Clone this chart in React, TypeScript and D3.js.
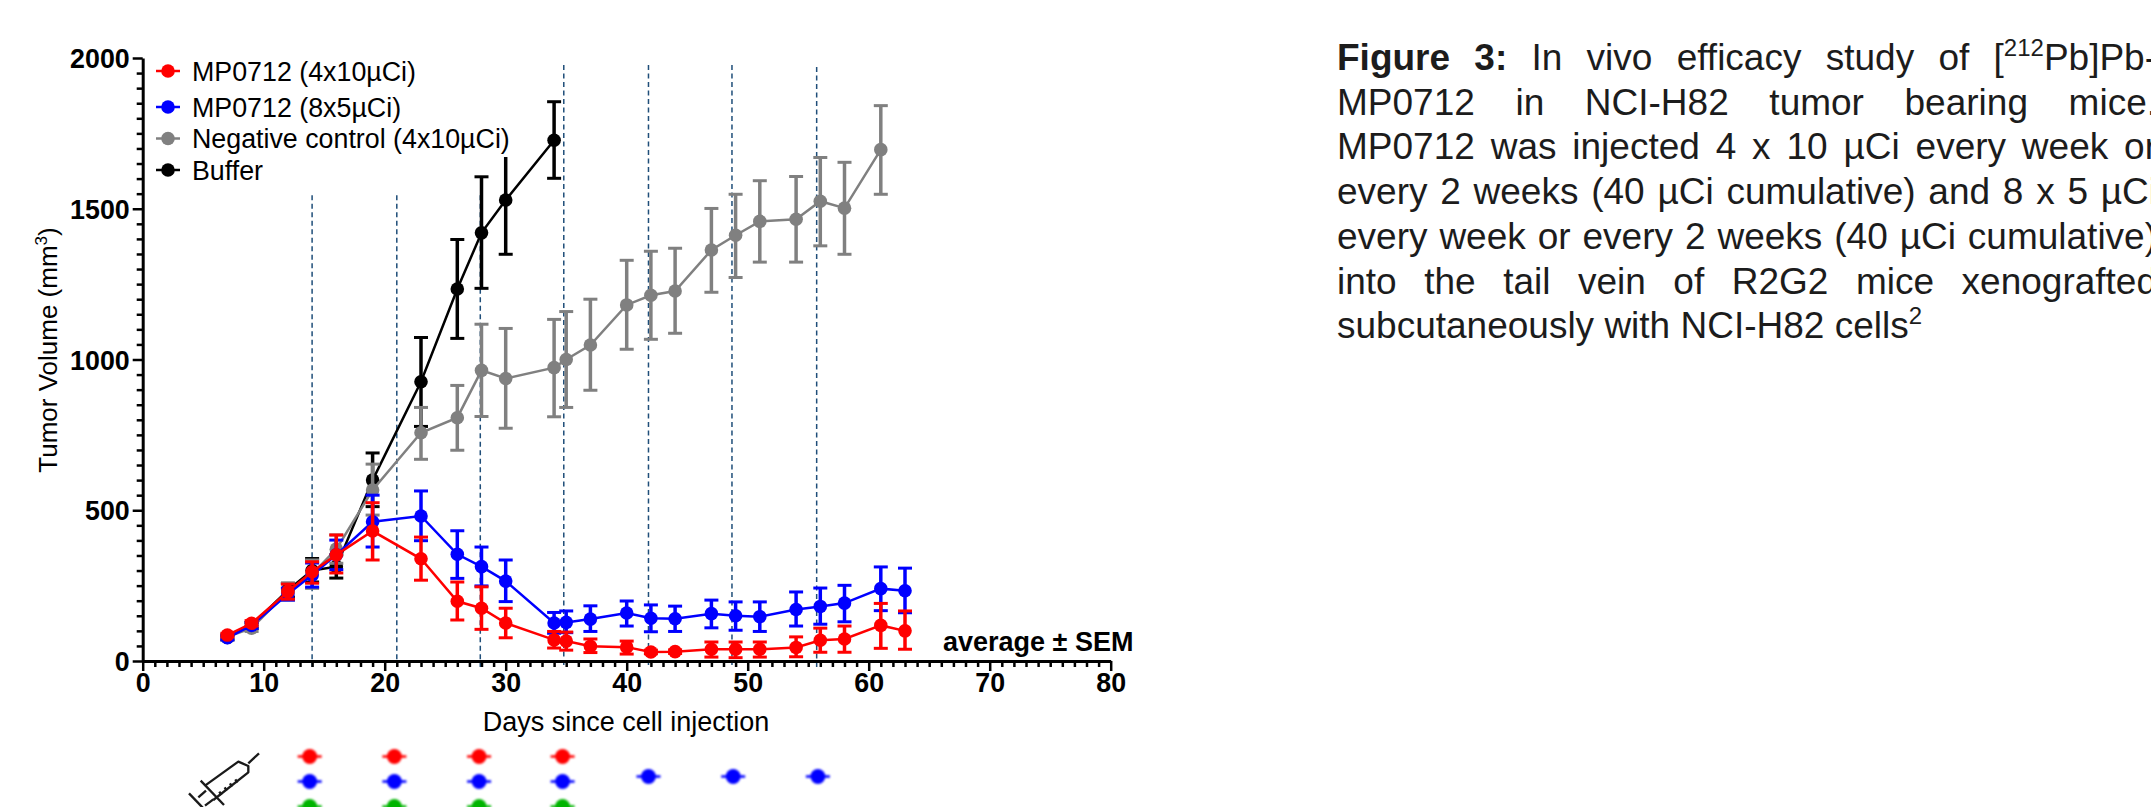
import { useEffect, useRef } from "react";
import * as d3 from "d3";

const bufferDays = [7, 9, 12, 14, 16, 19, 23, 26, 28, 30, 34];
const bufferMean = [78, 118, 235, 300, 313, 600, 926, 1234, 1420, 1529, 1727];
const bufferUpper = [86, 128, 258, 340, 352, 690, 1073, 1398, 1606, 1709, 1855];
const bufferLower = [70, 108, 212, 262, 275, 512, 778, 1070, 1236, 1349, 1601];

const negDays = [7, 9, 12, 14, 16, 19, 23, 26, 28, 30, 34, 35, 37, 40, 42, 44, 47, 49, 51, 54, 56, 58, 61];
const negMean = [80, 109, 230, 288, 371, 567, 757, 807, 964, 937, 973, 1000, 1048, 1181, 1213, 1227, 1363, 1412, 1458, 1465, 1525, 1502, 1696];
const negUpper = [88, 120, 258, 335, 418, 653, 841, 914, 1117, 1103, 1133, 1159, 1200, 1329, 1359, 1369, 1501, 1548, 1593, 1607, 1670, 1654, 1842];
const negLower = [72, 98, 202, 241, 324, 484, 669, 699, 811, 772, 810, 841, 898, 1034, 1067, 1087, 1223, 1272, 1323, 1323, 1377, 1349, 1548];

const blueDays = [7, 9, 12, 14, 16, 19, 23, 26, 28, 30, 34, 35, 37, 40, 42, 44, 47, 49, 51, 54, 56, 58, 61, 63];
const blueMean = [77, 118, 222, 285, 352, 462, 481, 354, 313, 265, 126, 128, 139, 159, 142, 140, 157, 150, 147, 171, 181, 192, 240, 233];
const blueUpper = [84, 128, 242, 325, 401, 550, 564, 432, 378, 335, 161, 166, 183, 199, 186, 182, 202, 196, 196, 229, 242, 251, 312, 308];
const blueLower = [70, 108, 202, 245, 303, 378, 399, 274, 249, 197, 92, 94, 98, 116, 97, 98, 110, 102, 98, 116, 122, 130, 167, 160];

const redDays = [7, 9, 12, 14, 16, 19, 23, 26, 28, 30, 34, 35, 37, 40, 42, 44, 47, 49, 51, 54, 56, 58, 61, 63];
const redMean = [86, 125, 230, 296, 352, 431, 339, 198, 175, 126, 70, 66, 49, 46, 30, 31, 39, 39, 39, 45, 69, 73, 118, 100];
const redUpper = [92, 134, 255, 329, 418, 525, 411, 262, 246, 175, 98, 96, 73, 66, 36, 37, 63, 63, 63, 80, 109, 116, 191, 166];
const redLower = [80, 116, 205, 258, 292, 335, 268, 136, 105, 77, 43, 36, 28, 23, 24, 25, 13, 11, 13, 14, 29, 29, 42, 39];

const series = [
  { name: "Buffer", color: "#000000", days: bufferDays, mean: bufferMean, upper: bufferUpper, lower: bufferLower },
  { name: "Negative control (4x10µCi)", color: "#808080", days: negDays, mean: negMean, upper: negUpper, lower: negLower },
  { name: "MP0712 (8x5µCi)", color: "#0000ff", days: blueDays, mean: blueMean, upper: blueUpper, lower: blueLower },
  { name: "MP0712 (4x10µCi)", color: "#ff0000", days: redDays, mean: redMean, upper: redUpper, lower: redLower },
];

const legendNames = ["MP0712 (4x10µCi)", "MP0712 (8x5µCi)", "Negative control (4x10µCi)", "Buffer"];
const legendColors = ["#ff0000", "#0000ff", "#808080", "#000000"];
const legendY = [71, 107, 138.5, 170];

// vertical dashed lines, dose day + where the line stops on top
const doseDays = [14, 21, 27.9, 34.8, 41.8, 48.7, 55.7];
const doseTops = [1545, 1545, 1545, 1977, 1977, 1977, 1970];

// dots of the injection schedule, they do not sit exactly on the lines
const scheduleDays = [13.8, 20.8, 27.8, 34.7];
const scheduleLateDays = [41.8, 48.8, 55.8];

const captionLines = [
  [["Figure 3:", "b"], [" In vivo efficacy study of ["], ["212", "s"], ["Pb]Pb-"]],
  [["MP0712 in NCI-H82 tumor bearing mice."]],
  [["MP0712 was injected 4 x 10 µCi every week or"]],
  [["every 2 weeks (40 µCi cumulative) and 8 x 5 µCi"]],
  [["every week or every 2 weeks (40 µCi cumulative)"]],
  [["into the tail vein of R2G2 mice xenografted"]],
  [["subcutaneously with NCI-H82 cells"], ["2", "s"]],
];

const FONT = "'Liberation Sans', Arial, sans-serif";

const App = () => {
  const ref = useRef<SVGSVGElement>(null);

  useEffect(() => {
    const svg = d3.select(ref.current);
    svg.selectAll("*").remove();

    const x = d3.scaleLinear().domain([0, 80]).range([142.7, 1110.7]);
    const y = d3.scaleLinear().domain([0, 2000]).range([661, 58]);

    const defs = svg.append("defs");
    defs.append("filter").attr("id", "soft").append("feGaussianBlur").attr("stdDeviation", 1);

    // Dose lines
    svg
      .append("g")
      .selectAll("line")
      .data(doseDays)
      .join("line")
      .attr("x1", (d) => x(d))
      .attr("x2", (d) => x(d))
      .attr("y1", (d, i) => y(doseTops[i]))
      .attr("y2", y(-20))
      .attr("stroke", "#1f4e79")
      .attr("stroke-width", 1.5)
      .attr("stroke-dasharray", "5 3.5");

    // Axes
    const yAxis = d3
      .axisLeft(y)
      .tickValues(d3.range(0, 2001, 50))
      .tickSize(0)
      .tickFormat(() => "");
    const gy = svg.append("g").attr("transform", "translate(142.7,0)").call(yAxis);
    gy.selectAll(".tick line")
      .attr("x2", (d: any) => (d % 500 === 0 ? -10 : -6))
      .attr("stroke", "#000")
      .attr("stroke-width", 2.5);
    gy.selectAll(".tick text")
      .attr("x", -13)
      .attr("dy", "0.36em")
      .attr("font-family", FONT)
      .attr("font-size", 26.8)
      .attr("font-weight", "bold")
      .attr("fill", "#000")
      .text((d: any) => (d % 500 === 0 ? d : ""));
    gy.select(".domain").attr("stroke", "#000").attr("stroke-width", 3);

    const xAxis = d3
      .axisBottom(x)
      .tickValues(d3.range(0, 81, 1))
      .tickSize(0)
      .tickFormat(() => "");
    const gx = svg.append("g").attr("transform", "translate(0,661)").call(xAxis);
    gx.selectAll(".tick line")
      .attr("y2", (d: any) => (d % 10 === 0 ? 10 : 6))
      .attr("stroke", "#000")
      .attr("stroke-width", 2.5);
    gx.selectAll(".tick text")
      .attr("y", 12)
      .attr("dy", "0.71em")
      .attr("font-family", FONT)
      .attr("font-size", 26.8)
      .attr("font-weight", "bold")
      .attr("fill", "#000")
      .text((d: any) => (d % 10 === 0 ? d : ""));
    gx.select(".domain").attr("stroke", "#000").attr("stroke-width", 3);

    // Series
    series.forEach((s) => {
      const g = svg.append("g");
      const line = d3
        .line<number>()
        .x((d) => x(d))
        .y((d, i) => y(s.mean[i]));
      g.append("path")
        .attr("d", line(s.days))
        .attr("fill", "none")
        .attr("stroke", s.color)
        .attr("stroke-width", 2.5);

      const bars = g.selectAll("g.err").data(s.days).join("g").attr("class", "err");
      bars
        .append("line")
        .attr("x1", (d) => x(d))
        .attr("x2", (d) => x(d))
        .attr("y1", (d, i) => y(s.upper[i]))
        .attr("y2", (d, i) => y(s.lower[i]))
        .attr("stroke", s.color)
        .attr("stroke-width", 3.5);
      [s.upper, s.lower].forEach((vals) => {
        bars
          .append("line")
          .attr("x1", (d) => x(d) - 7)
          .attr("x2", (d) => x(d) + 7)
          .attr("y1", (d, i) => y(vals[i]))
          .attr("y2", (d, i) => y(vals[i]))
          .attr("stroke", s.color)
          .attr("stroke-width", 3);
      });
      g.selectAll("circle")
        .data(s.days)
        .join("circle")
        .attr("cx", (d) => x(d))
        .attr("cy", (d, i) => y(s.mean[i]))
        .attr("r", 6.8)
        .attr("fill", s.color);
    });

    // Legend sits on a white box, it hides the top of the day 30 bar
    svg.append("rect").attr("x", 152).attr("y", 55).attr("width", 372).attr("height", 102).attr("fill", "#fff");
    const legend = svg
      .append("g")
      .selectAll("g")
      .data(legendNames)
      .join("g")
      .attr("transform", (d, i) => `translate(0,${legendY[i]})`);
    legend
      .append("line")
      .attr("x1", 156)
      .attr("x2", 180)
      .attr("stroke", (d, i) => legendColors[i])
      .attr("stroke-width", 2.5);
    legend.append("circle").attr("cx", 168).attr("r", 6.8).attr("fill", (d, i) => legendColors[i]);
    legend
      .append("text")
      .attr("x", 192)
      .attr("dy", "0.36em")
      .attr("font-family", FONT)
      .attr("font-size", 26.8)
      .text((d) => d);

    // Axis titles
    const yTitle = svg
      .append("text")
      .attr("transform", "translate(57,350) rotate(-90)")
      .attr("text-anchor", "middle")
      .attr("font-family", FONT)
      .attr("font-size", 26);
    yTitle.append("tspan").text("Tumor Volume (mm");
    yTitle.append("tspan").attr("font-size", 17).attr("dy", -10).text("3");
    yTitle.append("tspan").attr("dy", 10).text(")");
    svg
      .append("text")
      .attr("x", 626)
      .attr("y", 731)
      .attr("text-anchor", "middle")
      .attr("font-family", FONT)
      .attr("font-size", 27)
      .text("Days since cell injection");
    svg
      .append("text")
      .attr("x", 943)
      .attr("y", 651)
      .attr("font-family", FONT)
      .attr("font-size", 27)
      .attr("font-weight", "bold")
      .text("average ± SEM");

    // Injection schedule under the axis
    const doseRows = [
      { color: "#ff0000", days: scheduleDays, cy: 756.5 },
      { color: "#0000ff", days: scheduleDays, cy: 781.5 },
      { color: "#00b400", days: scheduleDays, cy: 806.5 },
      { color: "#0000ff", days: scheduleLateDays, cy: 776.5 },
    ];
    doseRows.forEach((row) => {
      const g = svg.append("g").attr("filter", "url(#soft)");
      g.selectAll("line")
        .data(row.days)
        .join("line")
        .attr("x1", (d) => x(d) - 12)
        .attr("x2", (d) => x(d) + 12)
        .attr("y1", row.cy)
        .attr("y2", row.cy)
        .attr("stroke", row.color)
        .attr("stroke-width", 2.5);
      g.selectAll("circle")
        .data(row.days)
        .join("circle")
        .attr("cx", (d) => x(d))
        .attr("cy", row.cy)
        .attr("r", 7.5)
        .attr("fill", row.color);
    });

    // Syringe icon
    const syringe = svg
      .append("g")
      .attr("transform", "translate(180,740) scale(0.3333)")
      .attr("fill", "none")
      .attr("stroke", "#1a1a1a")
      .attr("stroke-width", 7)
      .attr("stroke-linejoin", "round");
    [
      "M205,70L237,40",
      "M75,137L175,65L205,78L205,97L100,180",
      "M62,122L132,195",
      "M27,160L68,203",
      "M55,172L78,152",
      "M75,197L100,178",
      "M118,155L124,165M134,142L140,152M150,130L156,140M166,118L172,128",
    ].forEach((p) => syringe.append("path").attr("d", p));

    // Caption, justified lines run past the right edge
    const caption = svg
      .append("g")
      .attr("font-family", FONT)
      .attr("font-size", 37)
      .attr("fill", "#1c1c1c");
    captionLines.forEach((parts: string[][], i) => {
      const t = caption
        .append("text")
        .attr("x", 1337)
        .attr("y", 70 + i * 44.7)
        .style("white-space", "pre");
      let shifted = false;
      parts.forEach(([txt, kind]) => {
        const sp = t.append("tspan").text(txt);
        if (kind === "b") sp.attr("font-weight", "bold");
        if (kind === "s") {
          sp.attr("font-size", 24).attr("dy", -14);
          shifted = true;
        } else if (shifted) {
          sp.attr("dy", 14);
          shifted = false;
        }
      });
      if (i < captionLines.length - 1) {
        const node = t.node() as SVGTextElement;
        const spaces = parts.map((p) => p[0]).join("").split(" ").length - 1;
        const gap = (2157 - 1337 - node.getComputedTextLength()) / spaces;
        t.style("word-spacing", `${gap}px`);
      }
    });
  }, []);

  return (
    <svg
      ref={ref}
      width={2151}
      height={807}
      style={{ position: "absolute", left: 0, top: 0, background: "#fff" }}
    />
  );
};

export default App;
